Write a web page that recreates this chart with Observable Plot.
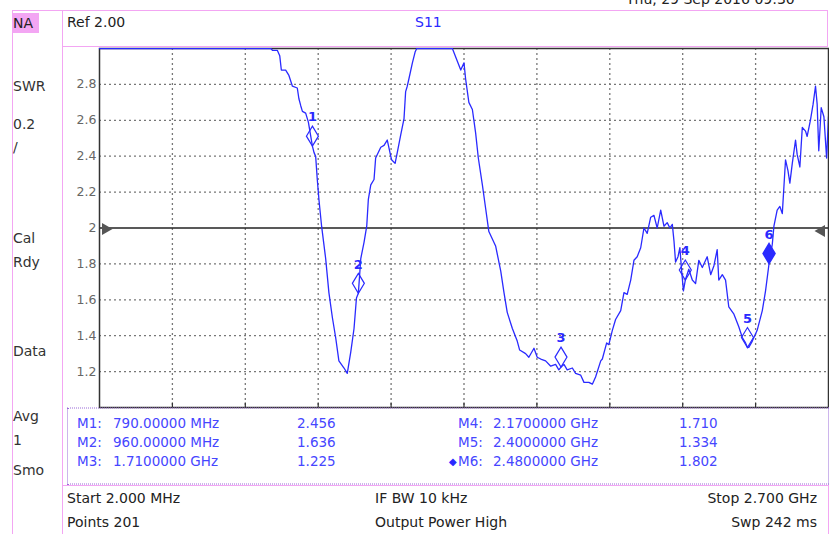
<!DOCTYPE html>
<html>
<head>
<meta charset="utf-8">
<script src="https://cdn.jsdelivr.net/npm/d3@7"></script>
<script src="https://cdn.jsdelivr.net/npm/@observablehq/plot@0.6"></script>
<style>
  html, body { margin: 0; padding: 0; background: #fff; }
  #wrap { position: relative; width: 829px; height: 534px; overflow: hidden; font-family: "DejaVu Sans", sans-serif; }
  #wrap svg { position: absolute; left: 0; top: 0; }
  .t { position: absolute; white-space: nowrap; line-height: 1; transform: translateY(-50%); font-size: 14px; color: #222; }
  .pinkV { position: absolute; width: 1px; background: #f3a6f3; }
  .pinkH { position: absolute; height: 1px; background: #f3a6f3; }
</style>
</head>
<body>
<div id="wrap"></div>
<script>
// ---- data ----
const freqMHz = [
  2, 100, 200, 300, 400, 500, 600, 636,
  642, 660, 669, 675, 691, 703, 716, 734, 740, 747,
  753, 765, 775, 790, 796, 802, 808, 814, 824, 839,
  851, 864, 876, 888, 907, 919, 932, 944, 953, 960,
  969, 981, 991, 997, 1006, 1018, 1024, 1043, 1055, 1067,
  1083, 1096, 1104, 1117, 1129, 1135, 1141, 1147, 1160, 1170,
  1176, 1200, 1250, 1308, 1326, 1339, 1351, 1357, 1369, 1382,
  1394, 1404, 1419, 1431, 1443, 1468, 1487, 1499, 1511, 1530,
  1548, 1557, 1579, 1591, 1610, 1622, 1635, 1653, 1672, 1690,
  1702, 1710, 1721, 1733, 1752, 1764, 1783, 1795, 1813, 1826,
  1838, 1857, 1863, 1879, 1887, 1900, 1912, 1931, 1943, 1955,
  1968, 1980, 1992, 2005, 2017, 2029, 2042, 2054, 2066, 2079,
  2091, 2103, 2113, 2122, 2128, 2134, 2143, 2150, 2156, 2163,
  2170, 2183, 2196, 2208, 2220, 2233, 2251, 2264, 2276, 2288,
  2294, 2307, 2319, 2331, 2350, 2368, 2381, 2393, 2400, 2405,
  2418, 2436, 2455, 2467, 2480, 2492, 2498, 2510, 2520, 2529,
  2535, 2541, 2550, 2557, 2566, 2578, 2584, 2594, 2603, 2615,
  2621, 2633, 2643, 2652, 2658, 2664, 2673, 2683, 2693, 2700
];
const swrValues = [
  3, 3, 3, 3, 3, 3, 3, 3,
  2.99, 2.99, 2.96, 2.88, 2.88, 2.85, 2.79, 2.78, 2.72, 2.68,
  2.65, 2.64, 2.59, 2.456, 2.42, 2.40, 2.27, 2.16, 2.01, 1.83,
  1.64, 1.50, 1.39, 1.26, 1.22, 1.19, 1.31, 1.44, 1.61, 1.636,
  1.83, 1.92, 2.01, 2.16, 2.24, 2.27, 2.39, 2.45, 2.46, 2.49,
  2.38, 2.36, 2.42, 2.52, 2.61, 2.76, 2.79, 2.83, 2.92, 2.98,
  3, 3, 3, 3, 2.93, 2.88, 2.92, 2.83, 2.70, 2.66,
  2.53, 2.39, 2.24, 2.11, 1.98, 1.90, 1.76, 1.64, 1.53, 1.44,
  1.37, 1.32, 1.30, 1.28, 1.33, 1.28, 1.27, 1.26, 1.23, 1.24,
  1.21, 1.225, 1.24, 1.21, 1.22, 1.19, 1.18, 1.14, 1.14, 1.13,
  1.17, 1.26, 1.27, 1.36, 1.35, 1.43, 1.49, 1.54, 1.64, 1.63,
  1.71, 1.82, 1.84, 1.89, 2.00, 1.97, 2.06, 2.07, 2.00, 2.10,
  2.01, 2.03, 2.00, 2.02, 1.93, 1.81, 1.84, 1.89, 1.77, 1.65,
  1.71, 1.77, 1.71, 1.69, 1.82, 1.78, 1.84, 1.74, 1.79, 1.88,
  1.71, 1.74, 1.71, 1.56, 1.52, 1.45, 1.39, 1.36, 1.334, 1.335,
  1.37, 1.43, 1.54, 1.65, 1.802, 1.91, 2.01, 2.10, 2.12, 2.08,
  2.23, 2.38, 2.32, 2.25, 2.36, 2.49, 2.41, 2.34, 2.56, 2.54,
  2.51, 2.60, 2.69, 2.79, 2.69, 2.43, 2.67, 2.62, 2.39, 2.62
];
const markerNames = ["1", "2", "3", "4", "5", "6"];
const markerFreqMHz = [790, 960, 1710, 2170, 2400, 2480];
const markerSWR = [2.456, 1.636, 1.225, 1.710, 1.334, 1.802];
const activeMarker = "6";
const yTicks = [1.2, 1.4, 1.6, 1.8, 2.0, 2.2, 2.4, 2.6, 2.8];
const xStart = 2, xStop = 2700;
const xDivisions = [1, 2, 3, 4, 5, 6, 7, 8, 9].map(k => xStart + k * (xStop - xStart) / 10);
const refValue = 2.0;
const sidePanel = ["SWR", "0.2", "/", "Cal", "Rdy", "Data", "Avg", "1", "Smo"];
const footerLeft = ["Start 2.000 MHz", "Points 201"];
const footerMid = ["IF BW 10 kHz", "Output Power High"];
const footerRight = ["Stop 2.700 GHz", "Swp 242 ms"];

// ---- build ----
const blue = "#2a2aff";
const trace = freqMHz.map((f, i) => ({f, swr: swrValues[i]}));
const markers = markerNames.map((n, i) => ({name: n, f: markerFreqMHz[i], swr: markerSWR[i]}));
const tallDiamond = {
  draw(ctx) { ctx.moveTo(0, -10); ctx.lineTo(6, 0); ctx.lineTo(0, 10); ctx.lineTo(-6, 0); ctx.closePath(); }
};

const chart = Plot.plot({
  width: 829, height: 534,
  marginLeft: 99, marginRight: 1, marginTop: 48, marginBottom: 127,
  x: {domain: [xStart, xStop], axis: null},
  y: {domain: [1, 3], axis: null},
  style: {background: "transparent", fontFamily: "DejaVu Sans, sans-serif", overflow: "visible"},
  marks: [
    Plot.ruleY(yTicks.filter(v => v !== refValue), {stroke: "#777", strokeWidth: 1.3, strokeDasharray: "2,3"}),
    Plot.ruleX(xDivisions, {stroke: "#777", strokeWidth: 1.3, strokeDasharray: "2,3"}),
    Plot.ruleX(xDivisions, {y1: 1, y2: 1.025, stroke: "#333", strokeWidth: 1.2}),
    Plot.ruleY([refValue], {stroke: "#222", strokeWidth: 1.5}),
    Plot.dot([refValue], {x: () => xStart, y: d => d, symbol: "triangle", rotate: 90, r: 4.5, fill: "#555", dx: 6, dy: 1}),
    Plot.dot([refValue], {x: () => xStop, y: d => d, symbol: "triangle", rotate: -90, r: 4.5, fill: "#555", dx: -7, dy: 3}),
    Plot.axisY(yTicks, {tickSize: 0, tickPadding: 3, fontSize: 12.5, fill: "#666",
      tickFormat: d => d === 2 ? "2" : d.toFixed(1), label: null}),
    Plot.frame({stroke: "#333", strokeWidth: 1.5}),
    Plot.line(trace, {x: "f", y: "swr", stroke: blue, strokeWidth: 1.3, clip: true}),
    Plot.dot(markers.filter(d => d.name !== activeMarker), {x: "f", y: "swr", symbol: tallDiamond, dy: -10, stroke: blue, strokeWidth: 1.2, fill: "none"}),
    Plot.dot(markers.filter(d => d.name === activeMarker), {x: "f", y: "swr", symbol: tallDiamond, dy: -10, stroke: blue, fill: blue}),
    Plot.text(markers, {x: "f", y: "swr", text: "name", dy: -29, fill: blue, fontSize: 13, fontWeight: "bold"})
  ]
});

const wrap = document.getElementById("wrap");
wrap.appendChild(chart);

function add(html, cls, style) {
  const d = document.createElement("div");
  d.className = cls;
  d.innerHTML = html;
  Object.assign(d.style, style);
  wrap.appendChild(d);
  return d;
}
// frame lines
add("", "pinkV", {left: "12px", top: "10px", height: "524px"});
add("", "pinkV", {left: "62px", top: "10px", height: "524px"});
add("", "pinkH", {left: "12px", top: "10px", width: "816px"});
add("", "pinkH", {left: "62px", top: "46px", width: "766px"});
add("", "pinkV", {left: "827px", top: "10px", height: "37px"});
add("", "pinkH", {left: "62px", top: "485px", width: "767px"});
add("", "pinkV", {left: "828px", top: "485px", height: "49px"});
// NA badge
add("NA", "t", {left: "12px", top: "23px", width: "26px", height: "20px", lineHeight: "20px", background: "#f3a6f3", paddingLeft: "1px"});
// date (clipped at top)
add("Thu, 29 Sep 2016 09:30", "t", {left: "626px", top: "-1px", fontSize: "14px"});
// header
add("Ref 2.00", "t", {left: "67px", top: "22px"});
add("S11", "t", {left: "415px", top: "22px", color: blue});
// side panel
const sideY = [86, 124, 147, 238, 262, 351, 416, 440, 470];
sidePanel.forEach((s, i) => add(s, "t", {left: "13px", top: sideY[i] + "px", color: "#333"}));
// marker table
add("", "t", {left: "67px", top: "446px", width: "760px", height: "75px", border: "1px dotted #9a6ad8", transform: "translateY(-50%)"});
const fmtF = f => f < 1000 ? f.toFixed(5) + " MHz" : (f / 1000).toFixed(7) + " GHz";
const rowY = [424, 443, 462];
markers.forEach((m, i) => {
  const col = i < 3 ? 0 : 1, row = i % 3;
  const xs = col === 0 ? [77, 113, 297] : [458, 493, 679];
  const c = "#4646ff";
  add("M" + m.name + ":", "t", {left: xs[0] + "px", top: rowY[row] + "px", color: c, fontSize: "13.5px"});
  add(fmtF(m.f), "t", {left: xs[1] + "px", top: rowY[row] + "px", color: c, fontSize: "13.5px"});
  add(m.swr.toFixed(3), "t", {left: xs[2] + "px", top: rowY[row] + "px", color: c, fontSize: "13.5px"});
  if (m.name === activeMarker) add("&#9670;", "t", {left: (xs[0] - 9) + "px", top: rowY[row] + "px", color: blue, fontSize: "10px"});
});
// footer
const footY = [498, 522];
footerLeft.forEach((s, i) => add(s, "t", {left: "67px", top: footY[i] + "px"}));
footerMid.forEach((s, i) => add(s, "t", {left: "375px", top: footY[i] + "px"}));
footerRight.forEach((s, i) => add(s, "t", {right: "12px", top: footY[i] + "px"}));
</script>
</body>
</html>
